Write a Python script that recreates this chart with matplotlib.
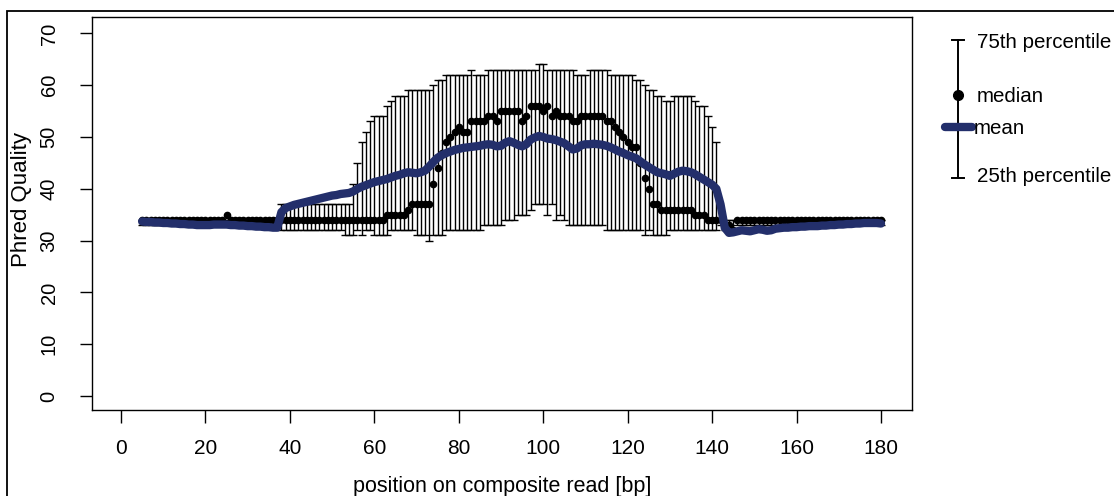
import matplotlib
matplotlib.use("Agg")
import matplotlib.pyplot as plt
from matplotlib.lines import Line2D
from matplotlib.patches import Rectangle
import numpy as np

plt.rcParams['font.family'] = ['Liberation Sans', 'DejaVu Sans']

positions = list(range(5, 181))

median = ([34]*20 + [35] + [34]*37 +            # 5-24, 25, 26-62
          [35]*5 + [36] + [37]*5 +               # 63-67, 68, 69-73
          [41, 44, 47, 49, 50, 51, 52, 51, 51] + # 74-82
          [53]*4 + [54, 54, 53] + [55]*5 +       # 83-94
          [53, 54, 56, 56, 56, 55, 56, 54, 55] + # 95-103
          [54]*3 + [53]*2 + [54]*6 +             # 104-114
          [53, 53, 52, 51, 50, 49, 48, 48, 45, 42, 40, 37, 37] +  # 115-127
          [36]*8 + [35]*3 + [34]*4 +             # 128-142
          [33, 33, 32] + [34]*35)                # 143-145, 146-180

q75 = ([34]*33 +                                 # 5-37
       [37]*17 +                                 # 38-54
       [41, 45, 49, 51, 53, 54, 54, 54, 56, 57] +  # 55-64
       [58]*3 + [59]*6 + [60, 61, 61] +          # 65-76
       [62]*6 + [63] + [62]*3 +                  # 77-86
       [63]*12 + [64, 64] +                      # 87-100
       [63]*7 + [62]*3 + [63]*5 +                # 101-115
       [62]*6 + [61, 61, 60, 59, 59, 58, 58, 57, 57] +  # 116-130
       [58]*5 + [57, 56, 56, 54, 52, 49] +       # 131-141
       [34]*39)                                  # 142-180

q25 = ([33]*33 +                                 # 5-37
       [32]*15 +                                 # 38-52
       [31]*3 + [32] + [31] + [32]*2 + [31]*4 +  # 53-63
       [32]*6 + [31]*3 + [30] + [31]*3 +         # 64-76
       [32]*9 + [33]*5 + [34]*3 + [35]*3 +       # 77-96
       [36] + [37]*3 + [35, 37, 34, 35, 34] +    # 97-105
       [33]*9 + [32]*9 + [31, 32] + [31]*4 +     # 106-129
       [32]*12 +                                 # 130-141
       [33] + [32]*3 + [33]*35)                  # 142-180

mean_q = ([33.7, 33.6, 33.6, 33.5, 33.5, 33.4, 33.4, 33.3, 33.3, 33.2,   # 5-14
           33.2, 33.1, 33.1, 33.0, 33.0, 33.0, 33.0, 33.1, 33.1, 33.1,   # 15-24
           33.1, 33.0, 33.0, 32.9, 32.9, 32.8, 32.8, 32.7, 32.7, 32.6,   # 25-34
           32.6, 32.5, 32.5,                                             # 35-37
           35.5, 36.3, 36.6, 36.9, 37.1, 37.3, 37.5, 37.7, 37.9, 38.1,   # 38-47
           38.3, 38.5, 38.7, 38.8, 39.0, 39.1, 39.2, 39.5, 40.0, 40.4,   # 48-57
           40.7, 41.0, 41.3, 41.5, 41.7, 41.9, 42.2, 42.5, 42.7, 43.0,   # 58-67
           43.2, 43.1, 43.0, 43.2, 43.5, 44.3, 45.2, 46.0, 46.5, 46.9,   # 68-77
           47.2, 47.5, 47.7, 47.9, 48.0, 48.1, 48.2, 48.3, 48.5, 48.6,   # 78-87
           48.5, 48.2, 48.3, 48.9, 49.2, 48.9, 48.5, 48.2, 48.6, 49.5,   # 88-97
           49.9, 50.2, 50.0, 49.7, 49.6, 49.4, 49.1, 48.8, 48.2, 47.6,   # 98-107
           47.8, 48.4, 48.6, 48.6, 48.7, 48.6, 48.5, 48.3, 48.0, 47.6,   # 108-117
           47.2, 46.9, 46.5, 46.2, 45.9, 45.3, 44.7, 44.2, 43.7, 43.2,   # 118-127
           43.0, 42.8, 42.5, 42.9, 43.3, 43.5, 43.4, 43.2, 42.8, 42.3,   # 128-137
           41.8, 41.3, 40.8, 40.0, 37.0, 32.5, 31.5, 31.6, 31.8, 32.0,   # 138-147
           31.9, 31.8, 32.0, 32.2, 32.1, 31.9, 32.0, 32.3, 32.4, 32.5,   # 148-157
           32.5, 32.6, 32.6, 32.7, 32.7, 32.8, 32.8, 32.8, 32.9, 32.9,   # 158-167
           33.0, 33.0, 33.1, 33.1, 33.2, 33.2, 33.3, 33.3, 33.4, 33.4,   # 168-177
           33.4, 33.4, 33.3])                                            # 178-180

x_ticks = [0, 20, 40, 60, 80, 100, 120, 140, 160, 180]
y_ticks = [0, 10, 20, 30, 40, 50, 60, 70]

W, H = 1114, 496
fig = plt.figure(figsize=(W/100, H/100), dpi=100)
ax = fig.add_axes([92/W, 1 - 410/H, (912-92)/W, (410-17)/H])

NAVY = '#232f6b'
pos = np.array(positions)
med = np.array(median)
lo = np.array(q25)
hi = np.array(q75)

# interquartile whiskers with caps
ax.vlines(pos, lo, hi, colors='black', lw=1.0, zorder=2)
ax.plot(pos, lo, linestyle='none', marker='_', color='black', markersize=6,
        markeredgewidth=1.0, zorder=2)
ax.plot(pos, hi, linestyle='none', marker='_', color='black', markersize=6,
        markeredgewidth=1.0, zorder=2)
ax.plot(pos, med, 'o', color='black', markersize=4.5, zorder=3)
ax.plot(pos, mean_q, '-', color=NAVY, lw=6, solid_capstyle='round', zorder=4)

ax.set_xlim(-6.87, 187.35)
ax.set_ylim(-2.70, 73.17)
ax.set_xticks(x_ticks)
ax.set_yticks(y_ticks)
ax.tick_params(direction='out', length=9, width=1)
ax.tick_params(axis='x', labelsize=15, pad=12)
ax.tick_params(axis='y', labelsize=14.5, labelrotation=90, pad=15)
for lbl in ax.get_yticklabels():
    lbl.set_va('center')
for s in ax.spines.values():
    s.set_linewidth(1.0)
ax.set_xlabel('position on composite read [bp]', fontsize=15.5, labelpad=13)
ax.set_ylabel('Phred Quality', fontsize=16)
ax.yaxis.set_label_coords(-0.073, 0.535)

# legend (drawn manually in figure pixel coordinates)
def fx(px):
    return px / W

def fy(py):
    return 1 - py / H

fig.add_artist(Line2D([fx(958), fx(958)], [fy(40), fy(178)], color='black', lw=1.4))
fig.add_artist(Line2D([fx(952), fx(964)], [fy(40), fy(40)], color='black', lw=1.4))
fig.add_artist(Line2D([fx(952), fx(964)], [fy(178), fy(178)], color='black', lw=1.4))
fig.add_artist(Line2D([fx(958)], [fy(95)], marker='o', color='black', markersize=7))
fig.add_artist(Line2D([fx(945), fx(972)], [fy(127), fy(127)], color=NAVY, lw=6,
                      solid_capstyle='round'))
fig.text(fx(977), fy(42), '75th percentile', fontsize=14.8, va='center', ha='left')
fig.text(fx(977), fy(97), 'median', fontsize=14.8, va='center', ha='left')
fig.text(fx(974), fy(129), 'mean', fontsize=14.8, va='center', ha='left')
fig.text(fx(977), fy(176), '25th percentile', fontsize=14.8, va='center', ha='left')

# outer frame (extends past the right and bottom edges)
fig.add_artist(Rectangle((fx(7), fy(600)), fx(1200), fy(11) - fy(600),
                         fill=False, edgecolor='black', lw=1.3))

fig.savefig('out.png', dpi=100)
